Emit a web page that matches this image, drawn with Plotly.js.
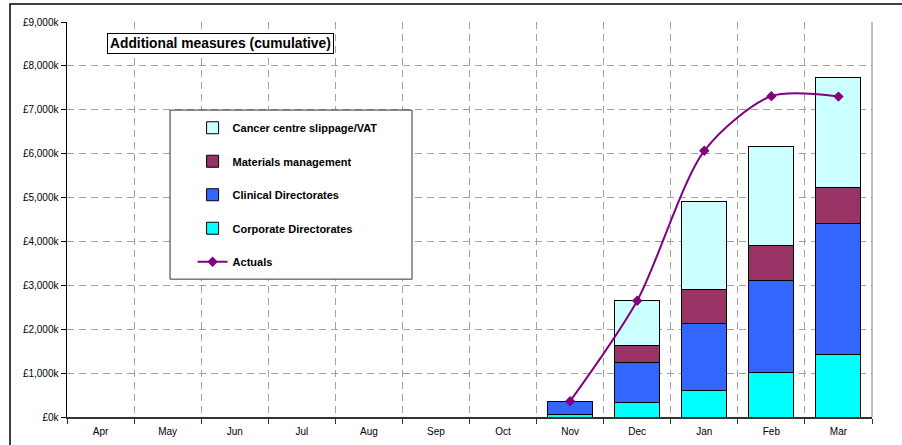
<!DOCTYPE html>
<html>
<head>
<meta charset="utf-8">
<script src="https://cdn.plot.ly/plotly-3.0.1.min.js"></script>
<style>html,body{margin:0;padding:0;background:#fff;}#chart{width:902px;height:445px;}</style>
</head>
<body>
<div id="chart"></div>
<script>
const months = ["Apr","May","Jun","Jul","Aug","Sep","Oct","Nov","Dec","Jan","Feb","Mar"];
const corporate = [0,0,0,0,0,0,0,60,335,615,1020,1435];
const clinical  = [0,0,0,0,0,0,0,290,910,1505,2095,2980];
const materials = [0,0,0,0,0,0,0,0,395,790,800,820];
const cancer    = [0,0,0,0,0,0,0,0,1010,2010,2245,2510];
const actuals   = [null,null,null,null,null,null,null,360,2650,6065,7310,7300];
const yTicks = [0,1000,2000,3000,4000,5000,6000,7000,8000,9000];
const yTickText = yTicks.map(v => "£" + v.toLocaleString("en-GB") + "k");

const barLine = {color:"#000000", width:1};
const traces = [
  {type:"bar", name:"Corporate Directorates", x:months, y:corporate, marker:{color:"#00FFFF", line:barLine}, legendrank:4, legendgroup:"d"},
  {type:"bar", name:"Clinical Directorates", x:months, y:clinical, marker:{color:"#3366FF", line:barLine}, legendrank:3, legendgroup:"c"},
  {type:"bar", name:"Materials management", x:months, y:materials, marker:{color:"#993366", line:barLine}, legendrank:2, legendgroup:"b"},
  {type:"bar", name:"Cancer centre slippage/VAT", x:months, y:cancer, marker:{color:"#CCFFFF", line:barLine}, legendrank:1, legendgroup:"a"},
  {type:"scatter", mode:"lines+markers", name:"Actuals", x:months, y:actuals, line:{color:"#800080", width:2, shape:"spline", smoothing:0.8}, marker:{symbol:"diamond", size:8, color:"#800080"}, connectgaps:false, legendrank:5, legendgroup:"e"}
];

const layout = {
  width:902, height:445,
  margin:{l:67, r:30, t:22, b:28},
  paper_bgcolor:"#ffffff", plot_bgcolor:"#ffffff",
  font:{family:"Liberation Sans, Arial, sans-serif", size:10, color:"#000"},
  barmode:"stack", bargap:0.33,
  showlegend:true,
  legend:{x:0.156, y:0.769, xanchor:"left", yanchor:"top", bgcolor:"rgba(0,0,0,0)", borderwidth:0,
          font:{size:11, color:"#000", weight:"bold"}, tracegroupgap:14.5, traceorder:"grouped"},
  xaxis:{type:"category", range:[-0.5, 11.5], autorange:false, tickson:"boundaries", showgrid:true, griddash:"7px,5px", gridcolor:"#A0A0A0", gridwidth:1,
         ticks:"outside", ticklen:5, tickcolor:"#333", showline:true, linecolor:"#333", linewidth:1.5,
         tickfont:{size:10}, ticklabelstandoff:4, zeroline:false, fixedrange:true},
  yaxis:{range:[0,9000], autorange:false, tickmode:"array", tickvals:yTicks, ticktext:yTickText,
         showgrid:true, griddash:"7px,5px", gridcolor:"#A0A0A0", gridwidth:1,
         ticks:"outside", ticklen:5, tickcolor:"#000", showline:true, linecolor:"#000", linewidth:1.5,
         zeroline:false, tickfont:{size:10}, fixedrange:true},
  shapes:[
    {type:"line", xref:"paper", yref:"paper", x0:1, x1:1, y0:0, y1:1, line:{color:"#808080", width:1}, layer:"above"},
    {type:"rect", xref:"paper", yref:"paper", x0:0.128, x1:0.4286, y0:0.349, y1:0.777, fillcolor:"#ffffff", line:{color:"#333", width:1}, layer:"above"},
    {type:"rect", xref:"paper", yref:"paper", x0:-0.0708, x1:1.045, y0:-0.08, y1:1.0456, fillcolor:"rgba(0,0,0,0)", line:{color:"#000", width:1.5}, layer:"above"}
  ],
  annotations:[
    {text:"<b>Additional measures (cumulative)</b>", xref:"paper", yref:"paper", x:0.1913, y:0.9468, xanchor:"center", yanchor:"middle",
     showarrow:false, font:{size:13.8, color:"#000"}, bgcolor:"#ffffff", bordercolor:"#000", borderwidth:1, borderpad:2}
  ]
};

Plotly.newPlot("chart", traces, layout, {displayModeBar:false, staticPlot:true});
</script>
</body>
</html>
